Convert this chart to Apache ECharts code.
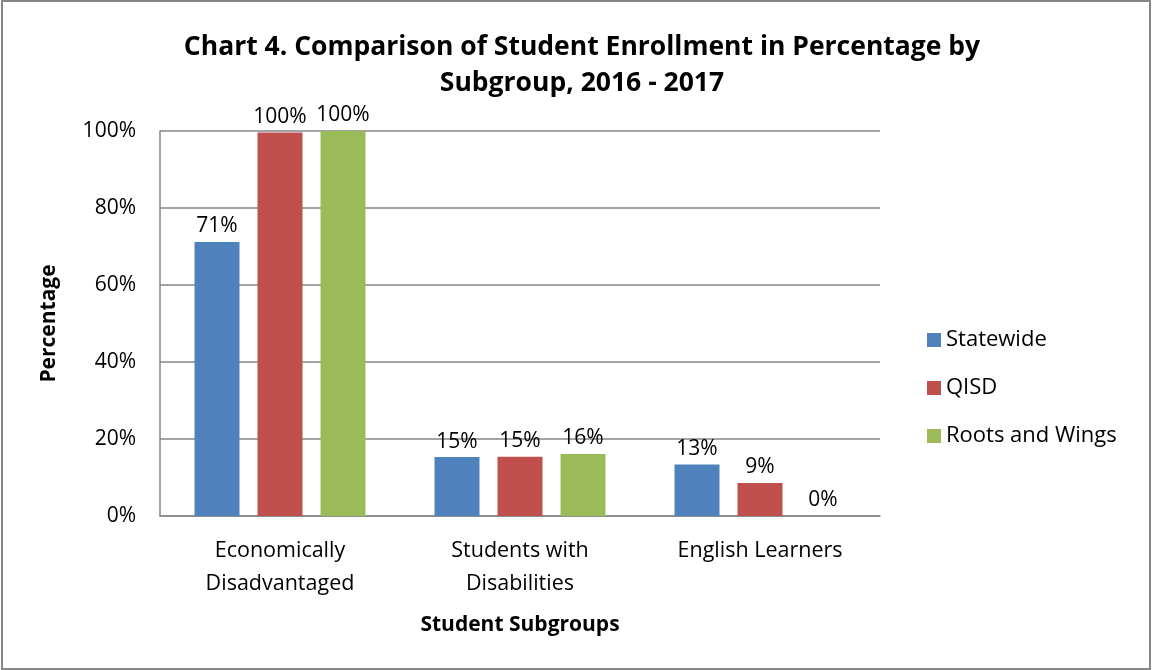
<!DOCTYPE html>
<html>
<head>
<meta charset="utf-8">
<script src="https://cdn.jsdelivr.net/npm/echarts@6/dist/echarts.min.js"></script>
<style>
  html, body { margin: 0; padding: 0; background: #fff; }
  #chart { width: 1152px; height: 670px; }
</style>
</head>
<body>
<div id="chart"></div>
<script>
// chart values
var categories = ['Economically\nDisadvantaged', 'Students with\nDisabilities', 'English Learners'];
var statewide = [71.2, 15.3, 13.4];
var qisd = [99.6, 15.4, 8.6];
var rootsAndWings = [100, 16.1, 0];
var seriesNames = ['Statewide', 'QISD', 'Roots and Wings'];
var colors = ['#4f81bd', '#c0504d', '#9bbb59'];

var font = '"Open Sans", "Noto Sans", sans-serif';

var chart = echarts.init(document.getElementById('chart'));

function makeSeries(name, values) {
  return {
    name: name,
    type: 'bar',
    data: values,
    barGap: '40%',
    barCategoryGap: '28.75%',
    label: {
      show: true,
      position: 'top',
      distance: 5,
      color: '#000',
      fontSize: 21,
      fontFamily: font,
      formatter: function (p) { return Math.round(p.value) + '%'; }
    }
  };
}

chart.setOption({
  backgroundColor: '#fff',
  color: colors,
  animation: false,
  title: {
    text: 'Chart 4. Comparison of Student Enrollment in Percentage by\nSubgroup, 2016 - 2017',
    left: 577,
    top: 24,
    textAlign: 'center',
    textStyle: {
      fontFamily: font,
      fontSize: 26.5,
      fontWeight: 'bold',
      color: '#000',
      lineHeight: 36
    }
  },
  legend: {
    orient: 'vertical',
    left: 922,
    top: 324,
    itemWidth: 14,
    itemHeight: 14,
    itemGap: 26,
    icon: 'rect',
    textStyle: { fontFamily: font, fontSize: 22, color: '#000' },
    data: seriesNames
  },
  grid: {
    left: 160,
    right: 272,
    top: 131,
    bottom: 154,
    containLabel: false
  },
  xAxis: {
    type: 'category',
    data: categories,
    name: 'Student Subgroups',
    nameLocation: 'middle',
    nameGap: 99,
    nameTextStyle: { fontFamily: font, fontSize: 21, fontWeight: 'bold', color: '#000' },
    axisLine: { lineStyle: { color: '#868686', width: 1.5 } },
    axisTick: { show: false },
    axisLabel: {
      fontFamily: font,
      fontSize: 21.5,
      color: '#000',
      lineHeight: 33,
      margin: 18
    }
  },
  yAxis: {
    type: 'value',
    min: 0,
    max: 100,
    interval: 20,
    name: 'Percentage',
    nameLocation: 'middle',
    nameRotate: 90,
    nameGap: 100,
    nameTextStyle: { fontFamily: font, fontSize: 21, fontWeight: 'bold', color: '#000' },
    axisLine: { show: true, lineStyle: { color: '#868686', width: 1.5 } },
    axisTick: { show: false },
    axisLabel: {
      fontFamily: font,
      fontSize: 21,
      color: '#000',
      margin: 24,
      formatter: '{value}%'
    },
    splitLine: { lineStyle: { color: '#868686', width: 1.5 } }
  },
  graphic: [{
    type: 'rect',
    shape: { x: 2, y: 1, width: 1148, height: 668 },
    style: { fill: 'none', stroke: '#868686', lineWidth: 2 },
    silent: true
  }],
  series: [
    makeSeries(seriesNames[0], statewide),
    makeSeries(seriesNames[1], qisd),
    makeSeries(seriesNames[2], rootsAndWings)
  ]
});
</script>
</body>
</html>
